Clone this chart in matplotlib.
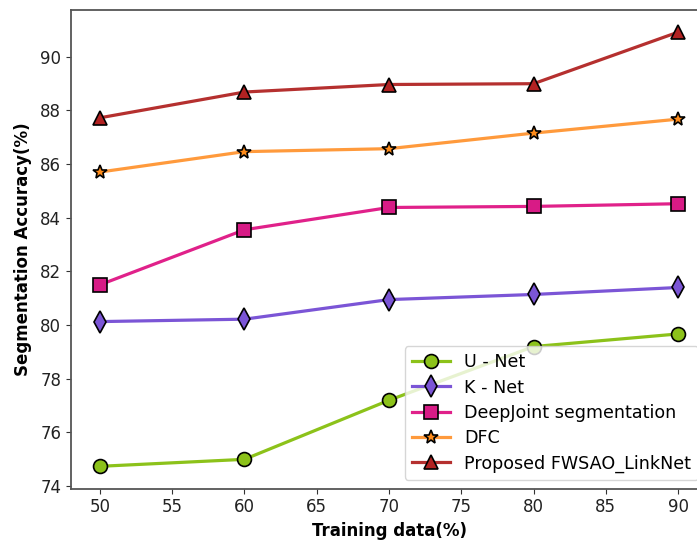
import numpy as np
import matplotlib
matplotlib.use("Agg")
import matplotlib.pyplot as plt

# training data (%)
x = [50, 60, 70, 80, 90]

unet = [74.74, 75.0, 77.2, 79.2, 79.67]
knet = [80.13, 80.22, 80.95, 81.14, 81.4]
deepjoint = [81.5, 83.55, 84.38, 84.42, 84.52]
dfc = [85.7, 86.46, 86.57, 87.15, 87.67]
proposed = [87.72, 88.68, 88.96, 88.99, 90.91]

labels = ['U - Net', 'K - Net', 'DeepJoint segmentation', 'DFC', 'Proposed FWSAO_LinkNet']

fig = plt.figure(figsize=(6.97, 5.43), dpi=100)
# the original picture is cropped on the right, so the axes run past the edge
ax = fig.add_axes([71/697, (543-488.6)/543, 636/697, (488.6-10.4)/543])

ax.plot(x, unet, color='#8cc21a', lw=2.3, marker='o', ms=10, mfc='#8cc21a', mec='black', mew=1.2, label=labels[0])
ax.plot(x, knet, color='#7b55d6', lw=2.3, marker='d', ms=11, mfc='#7b55d6', mec='black', mew=1.2, label=labels[1])
ax.plot(x, deepjoint, color='#e0218a', lw=2.3, marker='s', ms=10, mfc='#d81b86', mec='black', mew=1.2, label=labels[2])
ax.plot(x, dfc, color='#ff9a3c', lw=2.3, marker='*', ms=10, mfc='#ff8c1a', mec='black', mew=1.2, label=labels[3])
ax.plot(x, proposed, color='#b5302f', lw=2.3, marker='^', ms=10, mfc='#b22222', mec='black', mew=1.2, label=labels[4])

ax.set_xlim(48, 92)
ax.set_ylim(73.91, 91.72)
ax.set_xticks([50, 55, 60, 65, 70, 75, 80, 85, 90])
ax.set_yticks([74, 76, 78, 80, 82, 84, 86, 88, 90])
ax.tick_params(labelsize=12, colors='#333333', labelcolor='#222222')
for s in ax.spines.values():
    s.set_color('#555555')
    s.set_linewidth(1.3)

ax.set_xlabel('Training data(%)', fontsize=12, fontweight='bold', labelpad=4)
ax.set_ylabel('Segmentation Accuracy(%)', fontsize=12, fontweight='bold', labelpad=6)

ax.legend(loc='lower right', fontsize=12.6, framealpha=0.8, handlelength=2.2, borderpad=0.4, labelspacing=0.42)

fig.savefig('out.png', dpi=100)
